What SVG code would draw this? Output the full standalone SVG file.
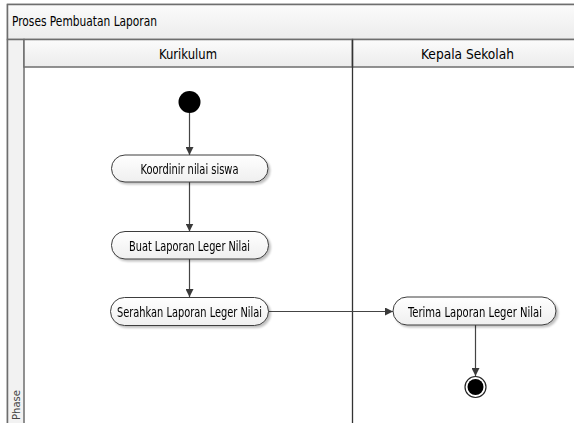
<svg xmlns="http://www.w3.org/2000/svg" width="574" height="423" viewBox="0 0 574 423">
  <defs>
    <linearGradient id="band" x1="0" y1="0" x2="0" y2="1">
      <stop offset="0" stop-color="#fbfbfb"/>
      <stop offset="1" stop-color="#ececec"/>
    </linearGradient>
    <linearGradient id="act" x1="0" y1="0" x2="0" y2="1">
      <stop offset="0" stop-color="#ffffff"/>
      <stop offset="1" stop-color="#efefef"/>
    </linearGradient>
    <marker id="arrow" viewBox="0 0 10 10" refX="10" refY="5" markerWidth="8" markerHeight="8" markerUnits="userSpaceOnUse" orient="auto">
      <path d="M0,0 L10,5 L0,10 z" fill="#3a3a3a"/>
    </marker>
    <filter id="shadow" x="-10%" y="-20%" width="130%" height="160%">
      <feGaussianBlur in="SourceAlpha" stdDeviation="1"/>
      <feOffset dx="2" dy="2" result="b"/>
      <feComponentTransfer><feFuncA type="linear" slope="0.25"/></feComponentTransfer>
      <feMerge><feMergeNode/><feMergeNode in="SourceGraphic"/></feMerge>
    </filter>
  </defs>
  <style>
    .lbl { font-family: "DejaVu Sans Condensed", "DejaVu Sans", sans-serif; font-size: 13.5px; fill: #000; }
    .act rect { fill: url(#act); stroke: #3c3c3c; stroke-width: 1; }
    .flow { stroke: #444; stroke-width: 1.2; fill: none; marker-end: url(#arrow); }
    .frame { stroke: #6e6e6e; stroke-width: 1.5; }
  </style>

  <rect width="574" height="423" fill="#ffffff"/>

  <!-- pool -->
  <g id="pool">
    <rect x="7.5" y="4.5" width="580" height="430" fill="#ffffff" class="frame"/>
    <rect x="7.5" y="4.5" width="580" height="35" fill="url(#band)" class="frame"/>
    <text class="lbl" x="12" y="25.5" textLength="145" lengthAdjust="spacingAndGlyphs">Proses Pembuatan Laporan</text>
    <!-- phase column -->
    <rect x="7.5" y="39.5" width="16.5" height="400" fill="#f2f2f2" class="frame"/>
    <text class="lbl" transform="translate(19.5,420) rotate(-90)" style="font-size:10.5px;fill:#444" textLength="30" lengthAdjust="spacingAndGlyphs">Phase</text>
  </g>

  <!-- lanes -->
  <g id="lane-kurikulum">
    <rect x="24" y="39.5" width="328.5" height="27.5" fill="url(#band)" class="frame"/>
    <text class="lbl" x="188" y="58.5" text-anchor="middle" textLength="58" lengthAdjust="spacingAndGlyphs">Kurikulum</text>
  </g>
  <g id="lane-kepala-sekolah">
    <rect x="352.5" y="39.5" width="240" height="27.5" fill="url(#band)" class="frame"/>
    <text class="lbl" x="467.5" y="58.5" text-anchor="middle" textLength="93" lengthAdjust="spacingAndGlyphs">Kepala Sekolah</text>
  </g>
  <line x1="352.5" y1="39.5" x2="352.5" y2="423" stroke="#333" stroke-width="1.3"/>

  <!-- connectors -->
  <g id="connectors">
    <line class="flow" x1="189.5" y1="113" x2="189.5" y2="155"/>
    <line class="flow" x1="189.5" y1="182" x2="189.5" y2="231.5"/>
    <line class="flow" x1="189.5" y1="259" x2="189.5" y2="297"/>
    <line class="flow" x1="268.5" y1="311.5" x2="393" y2="311.5"/>
    <line class="flow" x1="475.5" y1="325" x2="475.5" y2="376"/>
  </g>

  <!-- nodes -->
  <g id="start">
    <circle cx="189.5" cy="102" r="11" fill="#000"/>
  </g>
  <g id="koordinir" class="act" filter="url(#shadow)">
    <rect x="111.5" y="155" width="156.5" height="27" rx="13.5"/>
    <text class="lbl" x="189.5" y="173.5" text-anchor="middle" textLength="98" lengthAdjust="spacingAndGlyphs">Koordinir nilai siswa</text>
  </g>
  <g id="buat-laporan" class="act" filter="url(#shadow)">
    <rect x="111.5" y="231.5" width="157" height="27.5" rx="13.5"/>
    <text class="lbl" x="189.5" y="250.5" text-anchor="middle" textLength="121" lengthAdjust="spacingAndGlyphs">Buat Laporan Leger Nilai</text>
  </g>
  <g id="serahkan-laporan" class="act" filter="url(#shadow)">
    <rect x="110.5" y="297.5" width="158" height="28" rx="14"/>
    <text class="lbl" x="189.5" y="316.5" text-anchor="middle" textLength="145" lengthAdjust="spacingAndGlyphs">Serahkan Laporan Leger Nilai</text>
  </g>
  <g id="terima-laporan" class="act" filter="url(#shadow)">
    <rect x="393" y="297" width="163" height="28" rx="14"/>
    <text class="lbl" x="475" y="316.5" text-anchor="middle" textLength="134" lengthAdjust="spacingAndGlyphs">Terima Laporan Leger Nilai</text>
  </g>
  <g id="end">
    <circle cx="475.5" cy="387" r="10.5" fill="#fff" stroke="#222" stroke-width="1.2"/>
    <circle cx="475.5" cy="387" r="8" fill="#000"/>
  </g>
</svg>
